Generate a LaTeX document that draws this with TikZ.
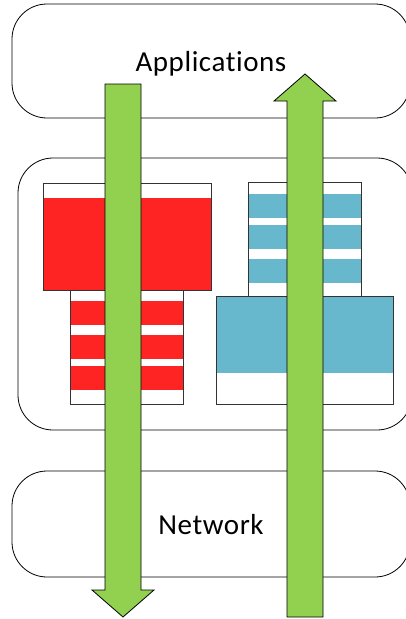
\documentclass[tikz,border=0pt]{standalone}
\usepackage{fontspec}
\setmainfont{Carlito}[Ligatures={NoCommon,NoRequired,NoContextual}, LetterSpace=2]
\usetikzlibrary{positioning}
\definecolor{redfill}{HTML}{FF2424}
\definecolor{bluefill}{HTML}{67B7CD}
\definecolor{greenfill}{HTML}{92D050}
\tikzset{
  layer/.style={rectangle, rounded corners=35pt, draw=black, line width=0.8pt, fill=white,
    font=\fontsize{29}{34}\selectfont, inner sep=0pt, text depth=0pt},
  slot/.style={draw=black!80, line width=0.8pt},
  flow/.style={draw=black, line width=0.8pt, fill=greenfill},
}

\begin{document}
\begin{tikzpicture}[x=1pt, y=-1pt]
\clip (0,0) rectangle (406,619);
% layers
\node[layer, minimum width=398pt, minimum height=114pt] (apps) at (211,61) {Applications};
\node[layer, minimum width=394pt, minimum height=272pt] (host) at (215,294) {};
\node[layer, minimum width=398pt, minimum height=106pt] (net) at (211,524) {Network};
% red stack
\fill[white] (43,183) rectangle (211,290);
\fill[redfill] (43,198) rectangle (211,290);
\draw[slot] (43,183) rectangle (211,290);
\fill[white] (70,290) rectangle (183,404);
\foreach \y in {301,335,366}
  \fill[redfill] (70,\y) rectangle (183,\y+24);
\draw[slot] (70,290) rectangle (183,404);
% blue stack
\fill[white] (248,182) rectangle (361,296);
\foreach \y in {194,225,259}
  \fill[bluefill] (248,\y) rectangle (361,\y+24);
\draw[slot] (248,182) rectangle (361,296);
\fill[white] (216,296) rectangle (393,404);
\fill[bluefill] (216,296) rectangle (393,373);
\draw[slot] (216,296) rectangle (393,404);
% arrows
\filldraw[flow] (105,84) -- (141,84) -- (141,590) -- (154,590) -- (123,617)
  -- (92,590) -- (105,590) -- cycle;
\filldraw[flow] (287,617) -- (287,101) -- (274,101) -- (305,74) -- (336,101)
  -- (323,101) -- (323,617) -- cycle;
\end{tikzpicture}
\end{document}
